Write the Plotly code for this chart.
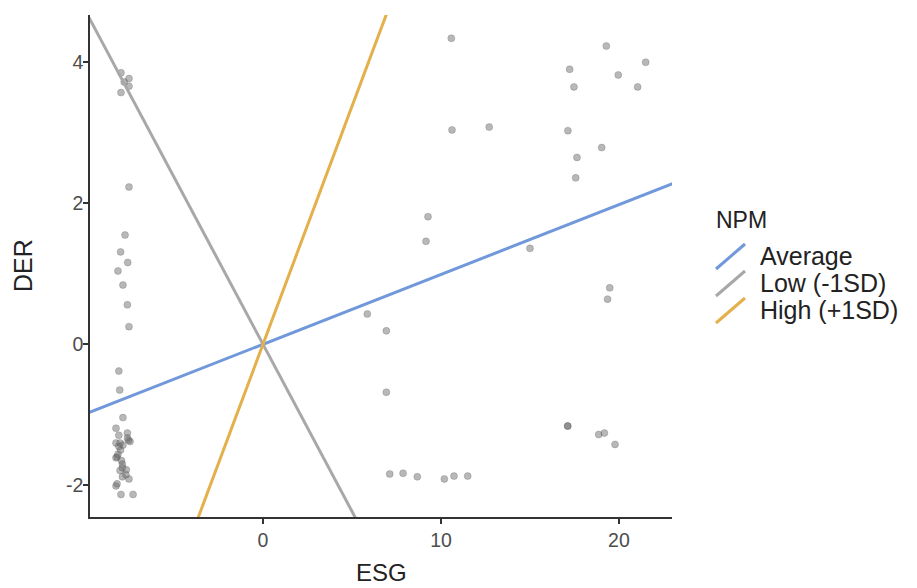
import plotly.graph_objects as go

# Scatter data (ESG, DER)
esg = [-7.98, -7.53, -7.53, -7.98, -7.80, -7.53, -7.75, -8.00, -7.60, -8.15,
       -7.87, -7.62, -7.53, -8.10, -8.05, -7.87, -8.26, -8.10, -7.62, -7.47,
       -8.26, -8.03, -7.87, -8.20, -8.26, -7.90, -7.68, -8.03, -7.53, -7.90,
       -8.26, -7.98, -7.30, -7.62, -8.15, -8.20, -7.90, -8.00, -7.70, -7.95,
       -8.10, -7.55,
       10.58, 10.62, 12.71, 5.86, 6.93, 6.93, 7.12, 7.87, 8.67, 10.19,
       10.73, 11.50, 9.27, 9.16, 15.00, 19.29, 21.50, 17.23, 19.96, 17.47,
       21.05, 17.13, 19.03, 17.64, 17.57, 19.48, 19.36, 17.12, 17.12, 18.86,
       19.18, 19.78]
der = [3.85, 3.77, 3.66, 3.57, 3.72, 2.23, 1.55, 1.31, 1.16, 1.04,
       0.84, 0.56, 0.25, -0.38, -0.65, -1.04, -1.19, -1.29, -1.26, -1.38,
       -1.40, -1.40, -1.43, -1.60, -1.61, -1.70, -1.78, -1.79, -1.91, -1.88,
       -2.01, -2.13, -2.13, -1.33, -1.56, -1.98, -1.75, -1.50, -1.85, -1.65,
       -1.45, -1.36,
       4.34, 3.04, 3.08, 0.43, 0.19, -0.68, -1.84, -1.83, -1.88, -1.91,
       -1.87, -1.87, 1.81, 1.46, 1.36, 4.23, 4.00, 3.90, 3.82, 3.65,
       3.65, 3.03, 2.79, 2.65, 2.36, 0.80, 0.64, -1.16, -1.16, -1.28,
       -1.26, -1.42]

# Simple slopes of ESG on DER at levels of NPM
levels = ["Average", "Low (-1SD)", "High (+1SD)"]
slopes = [0.099, -0.474, 0.675]
intercepts = [0.0, 0.0, 0.0]
colors = ["#7098DA", "#A8A8A8", "#E3B04B"]
legend_title = "NPM"
x_title = "ESG"
y_title = "DER"

x_range = [-9.72, 22.98]
y_range = [-2.45, 4.67]
x_ticks = [0, 10, 20]
x_tick_labels = ["0", "10", "20"]
y_ticks = [-2, 0, 2, 4]
y_tick_labels = ["-2", "0", "2", "4"]

fig = go.Figure()
fig.add_trace(go.Scatter(
    x=esg, y=der, mode="markers", showlegend=False,
    marker=dict(size=7, color="rgba(100,100,100,0.46)",
                line=dict(width=0.6, color="rgba(80,80,80,0.42)")),
    hoverinfo="skip"))

for name, b, a, c in zip(levels, slopes, intercepts, colors):
    xs = [x_range[0] - 5, x_range[1] + 5]
    ys = [a + b * v for v in xs]
    fig.add_trace(go.Scatter(x=xs, y=ys, mode="lines", name=name, showlegend=False,
                             line=dict(color=c, width=3)))

# Layout helpers (pixel -> paper)
plot_l, plot_r, plot_t, plot_b = 90, 672, 15, 517
W, H = plot_r - plot_l, plot_b - plot_t
def px(x):
    return (x - plot_l) / W
def py(y):
    return (plot_b - y) / H

# Axis titles
annotations = [
    dict(text=x_title, xref="paper", yref="paper", x=0.5, y=py(572),
         xanchor="center", yanchor="middle", showarrow=False,
         font=dict(size=24, color="#222222")),
    dict(text=y_title, xref="paper", yref="paper", x=px(23), y=0.5,
         xanchor="center", yanchor="middle", showarrow=False, textangle=-90,
         font=dict(size=25, color="#222222")),
]

# Custom legend (ggplot-style diagonal keys)
annotations.append(dict(text=legend_title, xref="paper", yref="paper",
                        x=px(714), y=py(220), xanchor="left", yanchor="middle",
                        showarrow=False, font=dict(size=23, color="#222222")))
shapes = []
first_y, step = 256, 27
for i, (name, c) in enumerate(zip(levels, colors)):
    cy = first_y + i * step
    shapes.append(dict(type="line", xref="paper", yref="paper",
                       x0=px(716), y0=py(cy + 13), x1=px(745), y1=py(cy - 12),
                       line=dict(color=c, width=3)))
    annotations.append(dict(text=name, xref="paper", yref="paper",
                            x=px(758), y=py(cy), xanchor="left", yanchor="middle",
                            showarrow=False, font=dict(size=25, color="#222222")))

fig.update_layout(
    width=917, height=588,
    margin=dict(l=plot_l, r=917 - plot_r, t=plot_t, b=588 - plot_b),
    paper_bgcolor="white", plot_bgcolor="white",
    font=dict(family="Liberation Sans, Arial, sans-serif", color="#333333"),
    showlegend=False,
    annotations=annotations, shapes=shapes,
)
fig.update_xaxes(range=x_range, tickvals=x_ticks, ticktext=x_tick_labels,
                 showgrid=False, zeroline=False,
                 showline=True, linecolor="#333333", linewidth=1.5, automargin=False,
                 ticks="outside", ticklen=5, tickwidth=1.5, tickcolor="#333333",
                 tickfont=dict(size=19.5, color="#4D4D4D"))
fig.update_yaxes(range=y_range, tickvals=y_ticks, ticktext=y_tick_labels,
                 showgrid=False, zeroline=False,
                 showline=True, linecolor="#333333", linewidth=1.5, automargin=False,
                 ticks="outside", ticklen=5, tickwidth=1.5, tickcolor="#333333",
                 ticklabelstandoff=-4,
                 tickfont=dict(size=19.5, color="#4D4D4D"))

fig.write_html("out.html")
